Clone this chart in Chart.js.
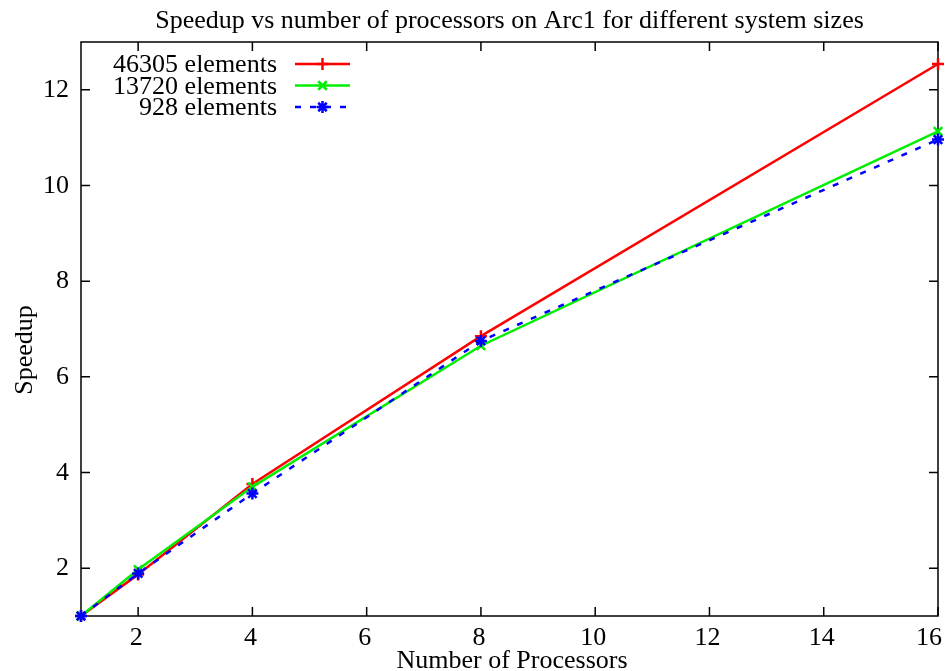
<!DOCTYPE html>
<html>
<head>
<meta charset="utf-8">
<script src="https://cdn.jsdelivr.net/npm/chart.js@4/dist/chart.umd.min.js"></script>
<style>
  html, body { margin: 0; padding: 0; background: #fff; }
  #wrap { width: 949px; height: 671px; }
</style>
</head>
<body>
<div id="wrap"><canvas id="c" width="949" height="671"></canvas></div>
<script>
// Speedup measured on Arc1 for three mesh sizes
const processors = [1, 2, 4, 8, 16];
const speedup46305 = [1, 1.87, 3.76, 6.85, 12.54];
const speedup13720 = [1, 1.97, 3.70, 6.65, 11.13];
const speedup928   = [1, 1.89, 3.56, 6.75, 10.96];
const xTicks = [2, 4, 6, 8, 10, 12, 14, 16];
const yTicks = [2, 4, 6, 8, 10, 12];
const seriesLabels = ['46305 elements', '13720 elements', '928 elements'];
const titleText = 'Speedup vs number of processors on Arc1 for different system sizes';
const xTitle = 'Number of Processors';
const yTitle = 'Speedup';

const FONT = '"Liberation Serif"';
const series = [
  { label: seriesLabels[0], values: speedup46305, color: '#ff0000', style: 'cross', dash: [], r: 6 },
  { label: seriesLabels[1], values: speedup13720, color: '#00ee00', style: 'crossRot', dash: [], r: 6 },
  { label: seriesLabels[2], values: speedup928,   color: '#0000ff', style: 'star', dash: [6, 9], r: 6 }
];

const datasets = series.map((s, i) => ({
  label: s.label,
  data: processors.map((p, j) => ({ x: p, y: s.values[j] })),
  borderColor: s.color,
  backgroundColor: s.color,
  borderWidth: 2.5,
  borderDash: s.dash,
  pointStyle: s.style,
  pointRadius: s.r,
  pointBorderWidth: 2.5,
  pointBorderColor: s.color,
  pointHoverRadius: s.r,
  tension: 0,
  fill: false,
  clip: false,
  order: series.length - i
}));

// Frame with inward ticks on all four sides (mirrored), plus tick labels and titles
const framePlugin = {
  id: 'frame',
  beforeDatasetsDraw(chart) {
    const { ctx, chartArea: a, scales: { x, y } } = chart;
    const len = 9;
    ctx.save();
    ctx.strokeStyle = '#000';
    ctx.lineWidth = 1.5;
    ctx.beginPath();
    xTicks.forEach(v => {
      const px = x.getPixelForValue(v);
      ctx.moveTo(px, a.bottom); ctx.lineTo(px, a.bottom - len);
      ctx.moveTo(px, a.top); ctx.lineTo(px, a.top + len);
    });
    yTicks.forEach(v => {
      const py = y.getPixelForValue(v);
      ctx.moveTo(a.left, py); ctx.lineTo(a.left + len, py);
      ctx.moveTo(a.right, py); ctx.lineTo(a.right - len, py);
    });
    ctx.stroke();
    ctx.strokeRect(a.left, a.top, a.right - a.left, a.bottom - a.top);

    ctx.fillStyle = '#000';
    ctx.font = '26px ' + FONT;
    ctx.textBaseline = 'alphabetic';

    // x tick labels, kept inside the canvas at the right edge
    ctx.textAlign = 'center';
    xTicks.forEach(v => {
      const txt = String(v);
      const w = ctx.measureText(txt).width;
      let cx = x.getPixelForValue(v) - 2;
      cx = Math.min(cx, chart.width - 7 - w / 2);
      ctx.fillText(txt, cx, a.bottom + 29);
    });

    // y tick labels
    ctx.textAlign = 'right';
    yTicks.forEach(v => {
      ctx.fillText(String(v), a.left - 12, y.getPixelForValue(v) + 7);
    });

    // chart title and axis titles
    ctx.textAlign = 'center';
    ctx.fillText(titleText, (a.left + a.right) / 2, 28);
    ctx.fillText(xTitle, 512, 668);
    ctx.save();
    ctx.translate(32, 350);
    ctx.rotate(-Math.PI / 2);
    ctx.fillText(yTitle, 0, 0);
    ctx.restore();
    ctx.restore();
  }
};

// Key in the upper-left corner: right-aligned text followed by line samples
const keyPlugin = {
  id: 'key',
  afterDraw(chart) {
    const { ctx } = chart;
    const textRight = 277, lineStart = 295, lineEnd = 350, top = 64, step = 21.5;
    ctx.save();
    ctx.font = '26px ' + FONT;
    ctx.textAlign = 'right';
    ctx.textBaseline = 'alphabetic';
    series.forEach((s, i) => {
      const yy = top + i * step;
      ctx.fillStyle = '#000';
      ctx.fillText(s.label, textRight, yy + 8);
      ctx.strokeStyle = s.color;
      ctx.lineWidth = 2.5;
      ctx.setLineDash(s.dash);
      ctx.beginPath();
      ctx.moveTo(lineStart, yy);
      ctx.lineTo(lineEnd, yy);
      ctx.stroke();
      ctx.setLineDash([]);
      ctx.fillStyle = s.color;
      Chart.helpers.drawPoint(ctx, {
        pointStyle: s.style, radius: s.r, rotation: 0, borderWidth: 2.5
      }, (lineStart + lineEnd) / 2, yy);
    });
    ctx.restore();
  }
};

new Chart(document.getElementById('c'), {
  type: 'line',
  data: { datasets },
  options: {
    responsive: false,
    animation: false,
    devicePixelRatio: 1,
    layout: { padding: { left: 0, right: 11, top: 42, bottom: 0 } },
    plugins: {
      legend: { display: false },
      tooltip: { enabled: false },
      title: { display: false }
    },
    scales: {
      x: {
        type: 'linear',
        min: 1, max: 16,
        afterBuildTicks(scale) { scale.ticks = xTicks.map(v => ({ value: v })); },
        afterFit(scale) { scale.height = 55; scale.paddingLeft = 0; scale.paddingRight = 0; },
        grid: { display: false, drawTicks: false },
        border: { display: false },
        ticks: { display: false }
      },
      y: {
        type: 'linear',
        min: 1, max: 13,
        afterBuildTicks(scale) { scale.ticks = yTicks.map(v => ({ value: v })); },
        afterFit(scale) { scale.width = 81; scale.paddingTop = 0; scale.paddingBottom = 0; },
        grid: { display: false, drawTicks: false },
        border: { display: false },
        ticks: { display: false }
      }
    }
  },
  plugins: [framePlugin, keyPlugin]
});
</script>
</body>
</html>
